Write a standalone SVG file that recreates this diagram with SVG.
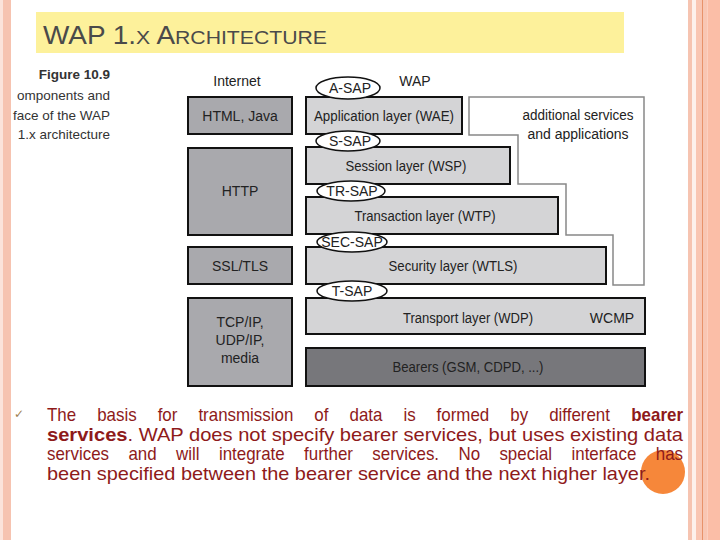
<svg xmlns="http://www.w3.org/2000/svg" width="720" height="540" viewBox="0 0 720 540">
<style>
.lbl{font-family:"Liberation Sans",Arial,sans-serif;font-size:14px;fill:#222;text-anchor:middle}
.cap{font-family:"Liberation Sans",Arial,sans-serif;font-size:13.5px;fill:#333;text-anchor:end}
.dk{fill:#a9a9ad;stroke:#111;stroke-width:2}
.lt{fill:#d4d4d6;stroke:#111;stroke-width:2}
.br{fill:#77777b;stroke:#111;stroke-width:2}
.sap{fill:#fff;stroke:#111;stroke-width:1.5}
.para{font-family:"Liberation Sans",Arial,sans-serif;font-size:18px;fill:#8e1a1a}
</style>
<rect width="720" height="540" fill="#fff"/>
<!-- borders -->
<rect x="0" y="0" width="3" height="540" fill="#fbe3da"/>
<rect x="3" y="0" width="8" height="540" fill="#f6c3b0"/>
<rect x="688" y="0" width="4" height="540" fill="#f6c4b1"/>
<rect x="692" y="0" width="4" height="540" fill="#fdf1ec"/>
<rect x="696" y="0" width="6" height="540" fill="#f9c6b3"/>
<rect x="702" y="0" width="1.5" height="540" fill="#e8926a"/>
<rect x="703.5" y="0" width="4" height="540" fill="#f9c6b3"/>
<rect x="707.5" y="0" width="12.5" height="540" fill="#fbbea7"/>
<!-- title -->
<g id="title">
<rect x="36" y="12" width="588" height="41" fill="#fdf19b"/>
<text x="43" y="44" font-family="'Liberation Sans',Arial,sans-serif" fill="#4a4a4a" font-size="25" textLength="284" lengthAdjust="spacingAndGlyphs">WAP 1.<tspan font-size="19">X</tspan> A<tspan font-size="19">RCHITECTURE</tspan></text>
</g>
<!-- caption -->
<g id="caption">
<text class="cap" x="110" y="79" font-weight="bold">Figure 10.9</text>
<text class="cap" x="110" y="100">omponents and</text>
<text class="cap" x="110" y="120">face of the WAP</text>
<text class="cap" x="110" y="139">1.x architecture</text>
</g>
<g id="internet-label"><text class="lbl" x="237" y="86">Internet</text></g>
<g id="wap-label"><text class="lbl" x="415" y="86">WAP</text></g>
<!-- left column -->
<g id="html"><rect class="dk" x="188" y="97" width="104" height="37"/><text class="lbl" x="240" y="121">HTML, Java</text></g>
<g id="http"><rect class="dk" x="188" y="148" width="104" height="87"/><text class="lbl" x="240" y="196">HTTP</text></g>
<g id="ssl"><rect class="dk" x="188" y="247" width="104" height="37"/><text class="lbl" x="240" y="271">SSL/TLS</text></g>
<g id="tcp"><rect class="dk" x="188" y="298" width="104" height="88"/><text class="lbl" x="240" y="327">TCP/IP,</text><text class="lbl" x="240" y="345">UDP/IP,</text><text class="lbl" x="240" y="363">media</text></g>
<!-- additional services -->
<g id="additional">
<path d="M469,97 H644 V285 H613 V235 H566 V184 H518 V135 H469 Z" fill="#fff" stroke="#888" stroke-width="1.5"/>
<text class="lbl" x="578" y="120" textLength="111" lengthAdjust="spacingAndGlyphs">additional services</text>
<text class="lbl" x="578" y="139">and applications</text>
</g>
<!-- right column -->
<g id="wae"><rect class="lt" x="306" y="97" width="156" height="37"/><text class="lbl" x="384" y="121" textLength="140" lengthAdjust="spacingAndGlyphs">Application layer (WAE)</text></g>
<g id="wsp"><rect class="lt" x="306" y="147" width="204" height="37"/><text class="lbl" x="406" y="171" textLength="121" lengthAdjust="spacingAndGlyphs">Session layer (WSP)</text></g>
<g id="wtp"><rect class="lt" x="306" y="197" width="252" height="37"/><text class="lbl" x="425" y="221" textLength="141" lengthAdjust="spacingAndGlyphs">Transaction layer (WTP)</text></g>
<g id="wtls"><rect class="lt" x="306" y="247" width="300" height="37"/><text class="lbl" x="453" y="271" textLength="129" lengthAdjust="spacingAndGlyphs">Security layer (WTLS)</text></g>
<g id="wdp"><rect class="lt" x="306" y="298" width="339" height="36"/><text class="lbl" x="468" y="323" textLength="130" lengthAdjust="spacingAndGlyphs">Transport layer (WDP)</text><text class="lbl" x="612" y="323">WCMP</text></g>
<g id="bearers"><rect class="br" x="306" y="348" width="339" height="38"/><text class="lbl" x="468" y="372" textLength="151" lengthAdjust="spacingAndGlyphs">Bearers (GSM, CDPD, ...)</text></g>
<!-- SAPs -->
<g id="a-sap"><ellipse class="sap" cx="348" cy="88" rx="32" ry="11"/><text class="lbl" x="350" y="93">A-SAP</text></g>
<g id="s-sap"><ellipse class="sap" cx="348" cy="141" rx="32" ry="10"/><text class="lbl" x="350" y="146">S-SAP</text></g>
<g id="tr-sap"><ellipse class="sap" cx="351" cy="191" rx="34" ry="10"/><text class="lbl" x="352" y="196">TR-SAP</text></g>
<g id="sec-sap"><ellipse class="sap" cx="352" cy="242" rx="35" ry="10"/><text class="lbl" x="352" y="247">SEC-SAP</text></g>
<g id="t-sap"><ellipse class="sap" cx="352" cy="291" rx="35" ry="10"/><text class="lbl" x="352" y="296">T-SAP</text></g>
<!-- paragraph -->
<circle cx="663" cy="472" r="22" fill="#f6873a"/>
<text x="14" y="418" font-family="'DejaVu Sans',sans-serif" font-size="12" fill="#a08050">✓</text>
<g id="paragraph" transform="translate(47,0) scale(0.94,1)">
<text class="para" y="421"><tspan x="0">The</tspan><tspan x="53.4">basis</tspan><tspan x="117.7">for</tspan><tspan x="161.1">transmission</tspan><tspan x="284.4">of</tspan><tspan x="321.8">data</tspan><tspan x="379.2">is</tspan><tspan x="414.5">formed</tspan><tspan x="492.9">by</tspan><tspan x="534.2">different</tspan></text>
<text class="para" x="676.6" y="421" font-weight="bold" text-anchor="end">bearer</text>
<text class="para" x="0" y="441" textLength="676.6" lengthAdjust="spacingAndGlyphs"><tspan font-weight="bold">services</tspan>. WAP does not specify bearer services, but uses existing data</text>
<text class="para" y="460"><tspan x="0">services</tspan><tspan x="86.6">and</tspan><tspan x="137.2">will</tspan><tspan x="182.9">integrate</tspan><tspan x="273.5">further</tspan><tspan x="346.1">services.</tspan><tspan x="437.7">No</tspan><tspan x="481.3">special</tspan><tspan x="558">interface</tspan></text>
<text class="para" x="676.6" y="460" text-anchor="end">has</text>
<text class="para" x="0" y="480" textLength="641.5" lengthAdjust="spacingAndGlyphs">been specified between the bearer service and the next higher layer.</text>
</g>
</svg>
